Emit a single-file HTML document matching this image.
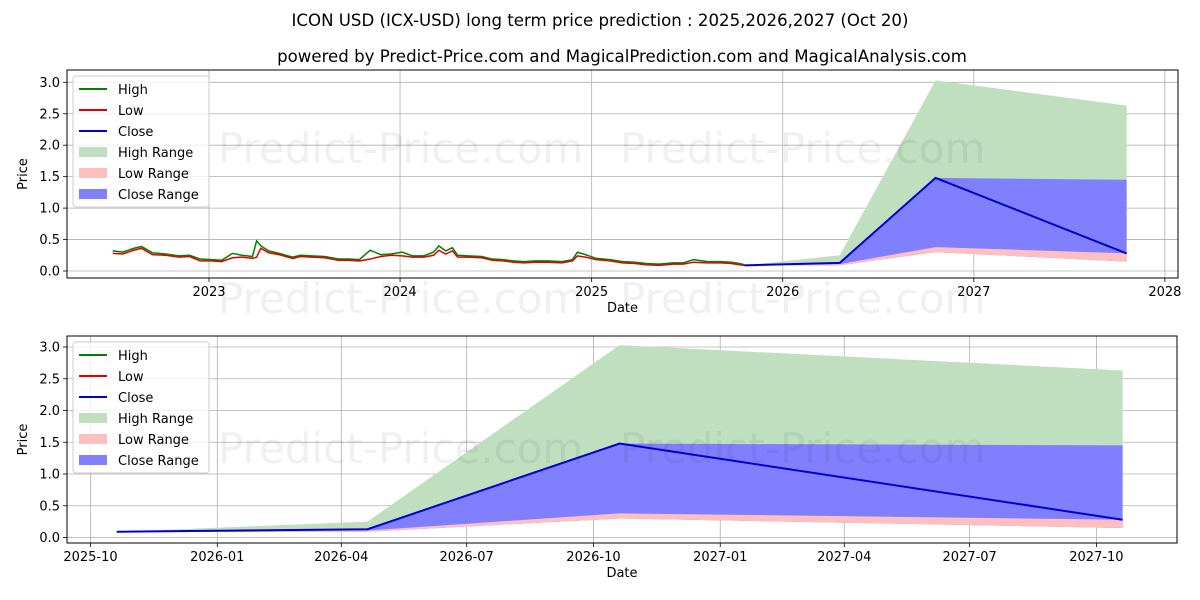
<!DOCTYPE html>
<html><head><meta charset="utf-8"><style>
body{margin:0;background:#fff;}
svg{display:block;font-family:"DejaVu Sans","Liberation Sans",sans-serif;}
</style></head><body>
<svg id="chart" width="1200" height="600" viewBox="0 0 1200 600"></svg>
<script>
// ---- data ----
const histDates = ["2022-07-01","2022-07-20","2022-08-10","2022-08-25","2022-09-15","2022-10-10","2022-11-05","2022-11-25","2022-12-15","2023-01-05","2023-01-25","2023-02-15","2023-03-05","2023-03-25","2023-04-02","2023-04-10","2023-04-25","2023-05-15","2023-06-10","2023-06-25","2023-07-15","2023-08-10","2023-09-05","2023-09-25","2023-10-15","2023-11-05","2023-11-25","2023-12-15","2024-01-05","2024-01-25","2024-02-15","2024-03-05","2024-03-15","2024-03-28","2024-04-10","2024-04-20","2024-05-10","2024-06-05","2024-06-25","2024-07-15","2024-08-05","2024-08-25","2024-09-15","2024-10-10","2024-11-05","2024-11-25","2024-12-05","2024-12-20","2025-01-10","2025-02-05","2025-03-01","2025-03-25","2025-04-15","2025-05-10","2025-06-05","2025-06-25","2025-07-15","2025-08-10","2025-09-05","2025-09-25","2025-10-10","2025-10-20"];
const histLow  = [0.28,0.27,0.33,0.36,0.26,0.25,0.22,0.23,0.16,0.16,0.15,0.21,0.22,0.20,0.22,0.36,0.29,0.26,0.20,0.23,0.22,0.21,0.17,0.17,0.16,0.19,0.23,0.25,0.24,0.22,0.22,0.25,0.33,0.27,0.32,0.22,0.22,0.21,0.17,0.16,0.14,0.13,0.14,0.14,0.13,0.16,0.24,0.22,0.18,0.16,0.13,0.12,0.10,0.09,0.11,0.11,0.14,0.13,0.13,0.12,0.10,0.09];
const histHigh = [0.32,0.30,0.36,0.39,0.29,0.27,0.24,0.25,0.19,0.18,0.17,0.28,0.25,0.23,0.48,0.40,0.32,0.28,0.22,0.25,0.24,0.23,0.19,0.19,0.18,0.33,0.26,0.27,0.30,0.24,0.24,0.30,0.40,0.32,0.37,0.25,0.24,0.23,0.19,0.18,0.16,0.15,0.16,0.16,0.15,0.18,0.30,0.26,0.20,0.18,0.15,0.14,0.12,0.11,0.13,0.13,0.18,0.15,0.15,0.14,0.12,0.10];
const fcDates = ["2025-10-20","2026-04-20","2026-10-20","2027-10-20"];
const fcClose = [0.09,0.13,1.48,0.28];
const fcHigh  = [0.09,0.25,3.03,2.63];
const fcCloseTop = [0.09,0.13,1.48,1.45];
const fcLowTop = [0.09,0.11,0.38,0.28];
const fcLowBottom = [0.09,0.09,0.30,0.15];
const yTicks = [0,0.5,1.0,1.5,2.0,2.5,3.0];
const topXTicks = ["2023","2024","2025","2026","2027","2028"];
const botXTicks = ["2025-10","2026-01","2026-04","2026-07","2026-10","2027-01","2027-04","2027-07","2027-10"];

const NS="http://www.w3.org/2000/svg";
const svg=document.getElementById('chart');
function mk(tag,attrs,parent,text){const e=document.createElementNS(NS,tag);for(const k in attrs)e.setAttribute(k,attrs[k]);if(text!==undefined)e.textContent=text;(parent||svg).appendChild(e);return e;}
const day=s=>Date.parse(s+(s.length===4?"-01-01":(s.length===7?"-01":"")))/86400000;

function panel(cfg){
  const g=mk('g',{});
  
  
  const X=d=>cfg.x0+(day(d)-day(cfg.d0))*cfg.pxDay;
  const Y=v=>cfg.y0-v*cfg.pxUnit;
  cfg.xt.forEach(t=>{const x=X(t);const l=mk('line',{x1:x,x2:x,y1:cfg.top,y2:cfg.bot,stroke:'#b0b0b0','stroke-width':0.8},g);
    mk('line',{x1:x,x2:x,y1:cfg.bot,y2:cfg.bot+4,stroke:'#000','stroke-width':0.8},g);
    const tx=mk('text',{x:x,y:cfg.bot+18,'font-size':13,'text-anchor':'middle'},g,t);});
  yTicks.forEach(v=>{const y=Y(v);const l=mk('line',{x1:cfg.left,x2:cfg.right,y1:y,y2:y,stroke:'#b0b0b0','stroke-width':0.8},g);
    mk('line',{x1:cfg.left-4,x2:cfg.left,y1:y,y2:y,stroke:'#000','stroke-width':0.8},g);
    const tx=mk('text',{x:cfg.left-7,y:y+4.5,'font-size':13,'text-anchor':'end'},g,v.toFixed(1));});
  const band=(top,bottom,color,name)=>{let p=fcDates.map((d,i)=>X(d)+','+Y(top[i]));p=p.concat(fcDates.map((d,i)=>X(d)+','+Y(bottom[i])).reverse());const e=mk('polygon',{points:p.join(' '),fill:color},g);};
  band(fcHigh,fcLowBottom,'#bfdfbf','high-range');
  band(fcCloseTop,fcLowBottom,'#8080ff','close-range');
  band(fcLowTop,fcLowBottom,'#ffbfbf','low-range');
  if(cfg.hist){
    const hl=mk('polyline',{points:histDates.map((d,i)=>X(d)+','+Y(histHigh[i])).join(' '),fill:'none',stroke:'#008000','stroke-width':1.5},g);
    const ll=mk('polyline',{points:histDates.map((d,i)=>X(d)+','+Y(histLow[i])).join(' '),fill:'none',stroke:'#e00000','stroke-width':1.5},g);
  }
  const cl=mk('polyline',{points:fcDates.map((d,i)=>X(d)+','+Y(fcClose[i])).join(' '),fill:'none',stroke:'#0000d0','stroke-width':2},g);
  cfg.marks.forEach(m=>{const t=mk('text',{x:m[0],y:m[1],'font-size':42,fill:'#000','fill-opacity':0.06},g,'Predict-Price.com');});
  mk('rect',{x:cfg.left,y:cfg.top,width:cfg.right-cfg.left,height:cfg.bot-cfg.top,fill:'none',stroke:'#000','stroke-width':1},g);
  const xl=mk('text',{x:(cfg.left+cfg.right)/2,y:cfg.bot+34,'font-size':13,'text-anchor':'middle'},g,'Date');
  const cy=(cfg.top+cfg.bot)/2;
  const yl=mk('text',{x:27,y:cy,'font-size':13,'text-anchor':'middle',transform:`rotate(-90 27 ${cy})`},g,'Price');
  const lg=mk('g',{},g);
  const ly=cfg.top+6;
  mk('rect',{x:73,y:ly,width:136,height:131,rx:3,fill:'#fff','fill-opacity':0.8,stroke:'#ccc'},lg);
  const items=[['High','line','#008000'],['Low','line','#e00000'],['Close','line','#0000d0'],['High Range','box','#bfdfbf'],['Low Range','box','#ffbfbf'],['Close Range','box','#8080ff']];
  items.forEach((it,i)=>{const y=ly+13+i*21;
    if(it[1]==='line')mk('line',{x1:79,x2:107,y1:y,y2:y,stroke:it[2],'stroke-width':2},lg);
    else mk('rect',{x:79,y:y-5,width:28,height:10,fill:it[2]},lg);
    const t=mk('text',{x:118,y:y+5,'font-size':13},lg,it[0]);});
}
const t1=mk('text',{x:600,y:26,'font-size':16.6,'text-anchor':'middle'},svg,'ICON USD (ICX-USD) long term price prediction : 2025,2026,2027 (Oct 20)');

const t2=mk('text',{x:622,y:62,'font-size':16.6,'text-anchor':'middle'},svg,'powered by Predict-Price.com and MagicalPrediction.com and MagicalAnalysis.com');

panel({name:'top-panel',left:67,right:1178,top:70,bot:278,x0:209,d0:'2023-01-01',pxDay:191.2/365.25,y0:271,pxUnit:62.9,xt:topXTicks,hist:true,marks:[[218,163],[620,163],[218,313],[620,313]]});
panel({name:'bottom-panel',left:67,right:1177,top:336,bot:543,x0:90.5,d0:'2025-10-01',pxDay:1.378,y0:537.5,pxUnit:63.5,xt:botXTicks,hist:false,marks:[[218,463],[620,463]]});
</script>
</body></html>
